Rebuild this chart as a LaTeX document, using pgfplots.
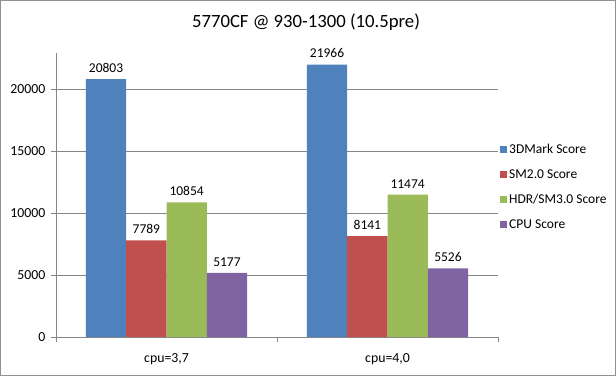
\documentclass[border=0pt]{standalone}
\usepackage{pgfplots}
\pgfplotsset{compat=1.18}
\usepackage{fontspec}
\setmainfont{Carlito}
\definecolor{xblue}{HTML}{4F81BD}
\definecolor{xred}{HTML}{C0504D}
\definecolor{xgreen}{HTML}{9BBB59}
\definecolor{xpurple}{HTML}{8064A2}
\definecolor{xgrid}{HTML}{868686}
\begin{document}
\begin{tikzpicture}
\path[use as bounding box] (0pt,0pt) rectangle (616pt,376pt);
\draw[color=xgrid!90,line width=0.8pt] (0.8pt,0.8pt) rectangle (615.2pt,375.2pt);
\node[font=\fontsize{18.7}{22}\selectfont] at (306pt,354pt) {5770CF @ 930-1300 (10.5pre)};
\begin{axis}[
  at={(56pt,39pt)}, anchor=south west,
  scale only axis, width=442pt, height=284pt,
  ybar=0pt, bar width=40.3pt,
  xmin=-0.5, xmax=1.5, ymin=0, ymax=22900,
  xtick={0,1}, xticklabels={cpu=3{,}7, cpu=4{,}0},
  major x tick style={draw=none},
  minor xtick={-0.5,0.5,1.5},
  ytick={0,5000,10000,15000,20000},
  scaled y ticks=false,
  /pgf/number format/.cd, 1000 sep={}, assume math mode=true, /pgfplots/.cd,
  axis x line*=bottom, axis y line*=left,
  axis line style={-, color=xgrid, line width=0.8pt},
  tick style={color=xgrid, line width=0.8pt},
  tick align=outside, major tick length=5pt, minor tick length=5pt,
  ymajorgrids, grid style={color=xgrid, line width=0.8pt},
  tick label style={font=\fontsize{13.8}{16}\selectfont, color=black},
  yticklabel style={xshift=-2pt},
  xticklabel style={yshift=-8pt},
  nodes near coords,
  every node near coord/.append style={font=\fontsize{13.5}{16}\selectfont, color=black, yshift=3pt},
  legend style={at={(1,0.528)}, anchor=west, xshift=2pt, draw=none, fill=none,
    font=\fontsize{13.5}{16}\selectfont, row sep=10.5pt, inner sep=0pt,
    cells={anchor=west}},
  legend image code/.code={\fill[#1,draw=none] (0pt,-3.5pt) rectangle (7pt,3.5pt);},
  legend cell align=left,
]
\addplot[fill=xblue, draw=none] coordinates {(0,20803) (1,21966)};
\addplot[fill=xred, draw=none] coordinates {(0,7789) (1,8141)};
\addplot[fill=xgreen, draw=none] coordinates {(0,10854) (1,11474)};
\addplot[fill=xpurple, draw=none] coordinates {(0,5177) (1,5526)};
\legend{3DMark Score, SM2.0 Score, HDR/SM3.0 Score, CPU Score}
\end{axis}
\end{tikzpicture}
\end{document}
